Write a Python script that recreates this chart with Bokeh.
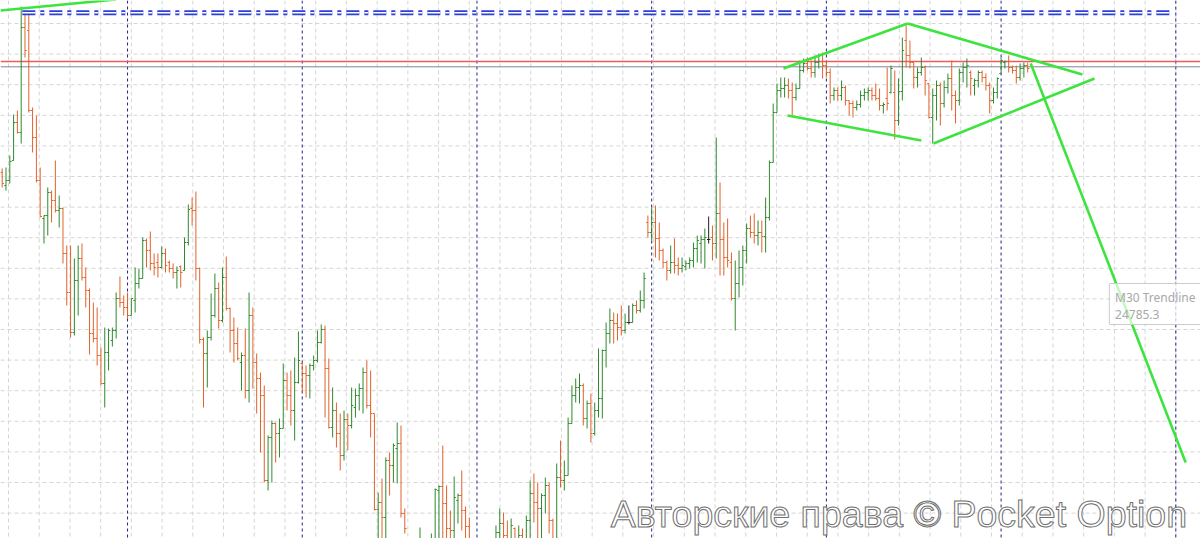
from bokeh.plotting import figure
from bokeh.models import Range1d, Span, ColumnDataSource
from bokeh.core.properties import value
from bokeh.embed import file_html
from bokeh.resources import INLINE

# ---------------- data (M30 bars, price values) ----------------
high = [
24932, 24933, 24945, 24986, 24990, 25094, 25087, 25087, 24993, 24985,
24933, 24885, 24913, 24910, 24940, 24905, 24893, 24855, 24855, 24842,
24855, 24857, 24833, 24812, 24798, 24793, 24753, 24773, 24772, 24773,
24808, 24824, 24805, 24808, 24802, 24833, 24832, 24863, 24862, 24869,
24847, 24847, 24854, 24852, 24840, 24837, 24834, 24835, 24863, 24896,
24903, 24909, 24833, 24763, 24770, 24807, 24827, 24818, 24833, 24844,
24793, 24783, 24773, 24748, 24772, 24808, 24793, 24747, 24728, 24715,
24665, 24680, 24678, 24682, 24737, 24728, 24730, 24743, 24769, 24738,
24735, 24737, 24745, 24770, 24776, 24775, 24742, 24713, 24698, 24687,
24690, 24687, 24713, 24712, 24717, 24733, 24740, 24730, 24687, 24608,
24622, 24643, 24648, 24657, 24678, 24675, 24592, 24555, 24540, 24545,
24573, 24560, 24550, 24567, 24612, 24615, 24655, 24615, 24590, 24624,
24607, 24630, 24594, 24583, 24555, 24540, 24530, 24545, 24550, 24560,
24575, 24592, 24588, 24580, 24582, 24573, 24575, 24572, 24585, 24620,
24627, 24618, 24607, 24623, 24618, 24582, 24637, 24660, 24640, 24683,
24715, 24722, 24727, 24717, 24700, 24707, 24698, 24752, 24751, 24778,
24792, 24788, 24787, 24795, 24787, 24795, 24797, 24800, 24810, 24828,
24885, 24893, 24895, 24878, 24852, 24840, 24855, 24862, 24843, 24843,
24840, 24843, 24858, 24865, 24865, 24872, 24884, 24875, 24963, 24918,
24878, 24882, 24848, 24840, 24850, 24855, 24877, 24885, 24887, 24880,
24880, 24903, 24940, 24997, 25017, 25023, 25023, 25022, 25018, 25017,
25040, 25042, 25043, 25040, 25045, 25047, 25048, 25040, 25032, 25013,
25013, 25020, 25015, 25000, 25000, 25000, 25010, 25012, 25013, 25013,
25017, 25012, 24998, 25033, 25035, 25030, 25022, 25063, 25075, 25060,
25038, 25033, 25043, 25035, 25017, 25012, 25020, 25018, 25020, 25027,
25040, 25010, 25032, 25038, 25042, 25030, 25022, 25030, 25030, 25027,
25018, 25013, 25023, 25043, 25040, 25045, 25035, 25035, 25037, 25038,
25038]

low = [
24913, 24910, 24917, 24940, 24967, 24957, 25043, 24988, 24948, 24918,
24883, 24857, 24865, 24878, 24888, 24873, 24837, 24795, 24763, 24765,
24785, 24820, 24793, 24746, 24758, 24735, 24715, 24693, 24730, 24754,
24762, 24793, 24785, 24782, 24785, 24788, 24812, 24822, 24833, 24830,
24825, 24823, 24832, 24828, 24828, 24822, 24812, 24813, 24830, 24855,
24875, 24820, 24757, 24693, 24713, 24760, 24783, 24772, 24778, 24790,
24748, 24738, 24740, 24710, 24702, 24698, 24712, 24687, 24648, 24618,
24610, 24618, 24638, 24643, 24672, 24690, 24675, 24660, 24717, 24708,
24703, 24702, 24730, 24738, 24757, 24683, 24672, 24663, 24653, 24630,
24640, 24650, 24672, 24683, 24690, 24687, 24692, 24663, 24590, 24540,
24540, 24555, 24605, 24618, 24617, 24583, 24567, 24515, 24500, 24505,
24530, 24520, 24510, 24535, 24555, 24560, 24555, 24540, 24540, 24555,
24577, 24570, 24540, 24530, 24510, 24500, 24490, 24500, 24510, 24520,
24540, 24552, 24550, 24545, 24550, 24540, 24540, 24530, 24540, 24555,
24578, 24555, 24560, 24587, 24567, 24540, 24555, 24613, 24610, 24625,
24677, 24698, 24697, 24675, 24672, 24658, 24665, 24683, 24682, 24733,
24757, 24757, 24760, 24765, 24767, 24776, 24778, 24787, 24788, 24792,
24863, 24860, 24843, 24840, 24832, 24820, 24827, 24827, 24825, 24828,
24830, 24832, 24833, 24838, 24837, 24832, 24857, 24840, 24842, 24825,
24825, 24833, 24800, 24770, 24803, 24815, 24837, 24863, 24857, 24855,
24848, 24848, 24880, 24938, 24988, 25003, 25003, 25002, 24985, 25000,
25012, 25028, 25030, 25023, 25023, 25032, 25022, 25023, 24997, 25000,
25000, 25000, 24995, 24985, 24983, 24990, 24993, 25000, 25000, 25000,
25000, 24990, 24987, 24990, 25007, 24961, 24975, 25000, 25033, 25032,
25012, 25013, 25025, 25005, 24982, 24957, 24980, 24975, 24993, 25007,
24990, 24977, 24995, 25018, 25013, 25005, 25005, 25013, 25018, 25010,
24987, 24997, 25002, 25027, 25032, 25028, 25027, 25017, 25020, 25023,
25028]

open_ = [
24928, 24915, 24920, 24940, 24978, 24968, 25073, 25070, 24990, 24963,
24920, 24882, 24885, 24908, 24900, 24890, 24892, 24847, 24808, 24768,
24820, 24842, 24823, 24810, 24767, 24762, 24745, 24717, 24748, 24760,
24770, 24802, 24798, 24793, 24785, 24800, 24817, 24822, 24860, 24850,
24837, 24838, 24833, 24847, 24838, 24832, 24828, 24834, 24830, 24858,
24892, 24890, 24832, 24761, 24747, 24763, 24785, 24812, 24780, 24823,
24792, 24770, 24757, 24738, 24745, 24710, 24785, 24738, 24722, 24705,
24620, 24663, 24677, 24667, 24672, 24720, 24705, 24690, 24718, 24737,
24727, 24725, 24735, 24740, 24758, 24771, 24732, 24673, 24690, 24667,
24645, 24681, 24675, 24693, 24705, 24712, 24728, 24695, 24687, 24591,
24598, 24583, 24640, 24635, 24652, 24657, 24587, 24552, 24525, 24510,
24535, 24555, 24530, 24545, 24560, 24610, 24614, 24597, 24572, 24570,
24600, 24605, 24590, 24574, 24555, 24520, 24510, 24525, 24515, 24540,
24552, 24568, 24577, 24565, 24560, 24572, 24560, 24565, 24555, 24580,
24607, 24598, 24592, 24605, 24615, 24580, 24560, 24623, 24620, 24625,
24677, 24705, 24713, 24715, 24682, 24697, 24667, 24690, 24702, 24750,
24767, 24780, 24777, 24773, 24770, 24778, 24778, 24795, 24790, 24800,
24878, 24868, 24878, 24862, 24850, 24838, 24830, 24838, 24835, 24832,
24834, 24837, 24840, 24852, 24857, 24861, 24861, 24863, 24857, 24887,
24861, 24843, 24838, 24802, 24817, 24833, 24850, 24872, 24868, 24865,
24868, 24864, 24883, 24938, 24988, 25010, 25012, 25015, 25010, 25003,
25012, 25030, 25037, 25032, 25028, 25038, 25045, 25035, 25028, 25005,
25010, 25005, 25013, 25000, 24997, 24993, 24996, 25005, 25008, 25010,
25005, 25002, 24995, 25002, 25008, 25008, 24980, 25009, 25060, 25045,
25038, 25023, 25028, 25033, 25017, 24983, 25005, 25015, 24997, 25013,
25022, 25005, 25000, 25028, 25033, 25028, 25015, 25020, 25028, 25023,
25015, 25000, 25008, 25027, 25038, 25039, 25033, 25030, 25023, 25032,
25035]

close = [
24917, 24920, 24939, 24978, 24968, 25073, 25050, 24990, 24963, 24920,
24884, 24885, 24908, 24900, 24890, 24892, 24847, 24808, 24768, 24820,
24842, 24823, 24810, 24767, 24762, 24745, 24717, 24748, 24770, 24770,
24802, 24798, 24793, 24785, 24802, 24817, 24822, 24860, 24850, 24837,
24833, 24833, 24847, 24835, 24832, 24828, 24830, 24828, 24858, 24891,
24890, 24832, 24761, 24747, 24763, 24785, 24812, 24780, 24823, 24792,
24770, 24757, 24742, 24745, 24710, 24785, 24738, 24722, 24705, 24620,
24663, 24677, 24667, 24672, 24720, 24705, 24690, 24718, 24740, 24727,
24725, 24735, 24740, 24758, 24771, 24732, 24673, 24690, 24667, 24645,
24681, 24675, 24695, 24705, 24712, 24728, 24695, 24687, 24591, 24598,
24583, 24640, 24635, 24655, 24657, 24587, 24572, 24525, 24510, 24535,
24560, 24530, 24545, 24560, 24611, 24614, 24597, 24572, 24570, 24603,
24605, 24590, 24574, 24555, 24520, 24510, 24525, 24515, 24540, 24552,
24568, 24577, 24565, 24560, 24575, 24560, 24565, 24555, 24580, 24607,
24598, 24592, 24605, 24615, 24580, 24560, 24623, 24620, 24625, 24677,
24705, 24713, 24715, 24682, 24697, 24667, 24690, 24702, 24750, 24767,
24780, 24777, 24773, 24770, 24778, 24778, 24795, 24790, 24800, 24822,
24868, 24878, 24862, 24850, 24838, 24830, 24838, 24835, 24832, 24835,
24837, 24840, 24852, 24860, 24861, 24863, 24861, 24857, 24887, 24861,
24843, 24840, 24802, 24817, 24833, 24850, 24872, 24868, 24865, 24868,
24864, 24883, 24938, 24988, 25010, 25012, 25015, 25010, 25003, 25012,
25030, 25037, 25032, 25028, 25038, 25045, 25035, 25028, 25005, 25010,
25005, 25013, 25000, 24997, 24993, 24996, 25005, 25008, 25010, 25005,
25002, 24995, 24996, 24997, 25032, 24980, 25009, 25050, 25045, 25038,
25023, 25028, 25033, 25020, 24983, 25005, 25015, 24997, 25013, 25022,
25005, 25000, 25028, 25033, 25035, 25022, 25020, 25028, 25023, 25015,
25000, 25008, 25022, 25040, 25039, 25033, 25030, 25023, 25032, 25035,
25032]

bar_index = list(range(len(close)))

# day separators (bar index where a new trading day starts, 46 bars per day)
day_starts = [33, 79, 125, 171, 217, 263, 309]

# horizontal levels
red_level = 25039.0
gray_level = 25033.7
blue_level = 25087.7
blue_from, blue_to = 5.3, 307.6

# trendlines: (x0, y0, x1, y1) in bar index / price
trend_x0 = [-0.45, 205.7, 238.4, 206.8, 245.2, 270.8]
trend_y0 = [25090, 25032, 25077, 24985, 24957, 25037]
trend_x1 = [30.0, 238.4, 284.4, 242.0, 287.6, 311.6]
trend_y1 = [25101, 25077, 25026, 24960, 25022, 24638]

tooltip_title = "M30 Trendline"
tooltip_value = "24785.3"
watermark = "Авторские права © Pocket Option"

# ---------------- figure ----------------
X0, X1 = -0.448, 315.5
Y0, Y1 = 24562, 25100
p = figure(width=1200, height=538, x_range=Range1d(X0, X1), y_range=Range1d(Y0, Y1),
           output_backend="svg", toolbar_location=None,
           x_axis_type=None, y_axis_type=None, min_border=0,
           outline_line_color=None, background_fill_color="white",
           border_fill_color="white")

# light dashed grid
step_x = 8.088
gx = 1.659
while gx < X1:
    p.add_layout(Span(location=gx, dimension="height", line_color="#d6d6d6",
                      line_dash="4 3", line_width=1, level="underlay"))
    gx += step_x
gy = 25077.0
while gy > Y0:
    p.add_layout(Span(location=gy, dimension="width", line_color="#d6d6d6",
                      line_dash="4 3", line_width=1, level="underlay"))
    gy -= 30.6

# day separators
for d in day_starts:
    p.add_layout(Span(location=d, dimension="height", line_color="#23238a",
                      line_dash="3 3", line_width=1, level="underlay"))

# red + gray levels
p.add_layout(Span(location=red_level, dimension="width", line_color="#ef5b5b",
                  line_width=1.5, level="underlay"))
p.add_layout(Span(location=gray_level, dimension="width", line_color="#7b8798",
                  line_width=1, level="underlay"))

# OHLC bars
colors = []
for o, c in zip(open_, close):
    if c > o:
        colors.append("#2c8a2c")
    elif c < o:
        colors.append("#e2622a")
    else:
        colors.append("#222222")

src = ColumnDataSource(dict(
    x=bar_index, h=high, l=low, o=open_, c=close, col=colors,
    xl=[i - 0.45 for i in bar_index], xr=[i + 0.45 for i in bar_index],
))
p.segment(x0="x", y0="h", x1="x", y1="l", source=src, line_color="col", line_width=1)
p.segment(x0="xl", y0="o", x1="x", y1="o", source=src, line_color="col", line_width=1)
p.segment(x0="x", y0="c", x1="xr", y1="c", source=src, line_color="col", line_width=1)

# blue dash-dot level (hollow look)
p.line([blue_from, blue_to], [blue_level, blue_level], line_color="#2d3fd8",
       line_width=5, line_dash="13 5 4 5")
p.line([blue_from, blue_to], [blue_level, blue_level], line_color="white",
       line_width=1.6, line_dash="13 5 4 5")

# green trendlines
p.segment(x0=trend_x0, y0=trend_y0, x1=trend_x1, y1=trend_y1,
          line_color="#3ee43e", line_width=2.6)

# tooltip box
p.quad(left=[291.5], right=[320.0], top=[24817], bottom=[24776],
       fill_color="white", fill_alpha=0.7, line_color="#cccccc", line_width=1)
p.text(x=[293.0], y=[24803], text=[tooltip_title], text_font=value("Noto Sans"),
       text_font_size="12px", text_color="#a8a8a8", text_baseline="alphabetic")
p.text(x=[293.0], y=[24786], text=[tooltip_value], text_font=value("Noto Sans"),
       text_font_size="12px", text_color="#a8a8a8", text_baseline="alphabetic")

# watermark
p.text(x=[160.2], y=[24587], text=[watermark], text_font=value("Liberation Sans"),
       text_font_size="37.5px", text_color="white", text_outline_color="#6e6e6e",
       text_baseline="alphabetic", text_align="left")

open("out.html", "w").write(file_html(p, INLINE))
